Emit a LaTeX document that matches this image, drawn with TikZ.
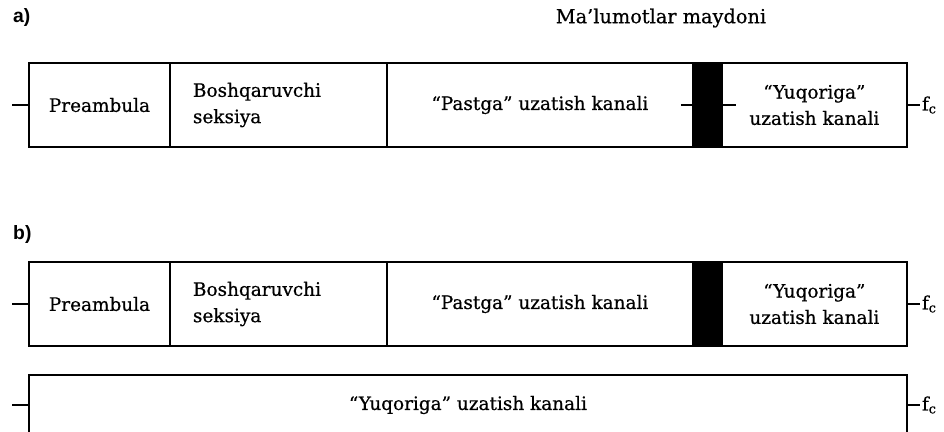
\documentclass[tikz,border=0pt]{standalone}
\usepackage{fontspec}
\setmainfont{DejaVu Serif}[FakeBold=0.6]
\newfontfamily\labelfont{Liberation Sans}
\usetikzlibrary{positioning}
\tikzset{
  x=0.02cm, y=-0.02cm,
  node distance=0pt,
  field/.style={draw, line width=1.5pt, minimum height=1.68cm, inner sep=0pt, outer sep=0pt,
    font=\fontsize{10.5}{15}\selectfont},
  gap/.style={field, fill=black, minimum width=0.58cm},
  tick/.style={line width=1.5pt},
  freq/.style={inner sep=1pt, anchor=west, font=\fontsize{10.5}{12}\selectfont},
  rowlabel/.style={font=\labelfont\bfseries\fontsize{11}{13}\selectfont, anchor=west},
}

\begin{document}
\begin{tikzpicture}
  \clip (0,0) rectangle (944,432);

  \node[rowlabel] (la) at (7,18) {a)};
  \node[font=\fontsize{11}{12}\selectfont] (data) at (661,18) {Ma’lumotlar maydoni};

  % frame a)
  \node[field, minimum width=2.82cm, anchor=north west] (pre1) at (29,63) {Preambula};
  \node[field, minimum width=4.34cm, text width=3.42cm, inner xsep=0.46cm, align=left,
        right=of pre1] (ctl1) {Boshqaruvchi\\seksiya};
  \node[field, minimum width=6.12cm, right=of ctl1] (down1) {“Pastga” uzatish kanali};
  \node[gap, right=of down1] (gap1) {};
  \node[field, minimum width=3.70cm, align=center, right=of gap1] (up1) {“Yuqoriga”\\uzatish kanali};
  \node[freq, right=0.26cm of up1.east] (fc1) {f\textsubscript{c}};

  \coordinate (in1) at ([xshift=-0.34cm]pre1.west);
  \coordinate (gl1) at ([xshift=-0.24cm]gap1.west);
  \coordinate (gr1) at ([xshift=0.28cm]gap1.east);
  \draw[tick] (in1) -- (pre1.west);
  \draw[tick] (gl1) -- (gap1.west);
  \draw[tick] (gap1.east) -- (gr1);
  \draw[tick] (up1.east) -- (fc1.west);

  \node[rowlabel] (lb) at (7,235) {b)};

  % frame b)
  \node[field, minimum width=2.82cm, anchor=north west] (pre2) at (29,262) {Preambula};
  \node[field, minimum width=4.34cm, text width=3.42cm, inner xsep=0.46cm, align=left,
        right=of pre2] (ctl2) {Boshqaruvchi\\seksiya};
  \node[field, minimum width=6.12cm, right=of ctl2] (down2) {“Pastga” uzatish kanali};
  \node[gap, right=of down2] (gap2) {};
  \node[field, minimum width=3.70cm, align=center, right=of gap2] (up2) {“Yuqoriga”\\uzatish kanali};
  \node[freq, right=0.26cm of up2.east] (fc2) {f\textsubscript{c}};

  \coordinate (in2) at ([xshift=-0.34cm]pre2.west);
  \draw[tick] (in2) -- (pre2.west);
  \draw[tick] (up2.east) -- (fc2.west);

  % separate upstream channel
  \node[field, minimum width=17.56cm, minimum height=1.2cm, anchor=north west] (up3) at (29,375)
    {“Yuqoriga” uzatish kanali};
  \node[freq, right=0.26cm of up3.east] (fc3) {f\textsubscript{c}};
  \coordinate (in3) at ([xshift=-0.34cm]up3.west);
  \draw[tick] (in3) -- (up3.west);
  \draw[tick] (up3.east) -- (fc3.west);
\end{tikzpicture}
\end{document}
